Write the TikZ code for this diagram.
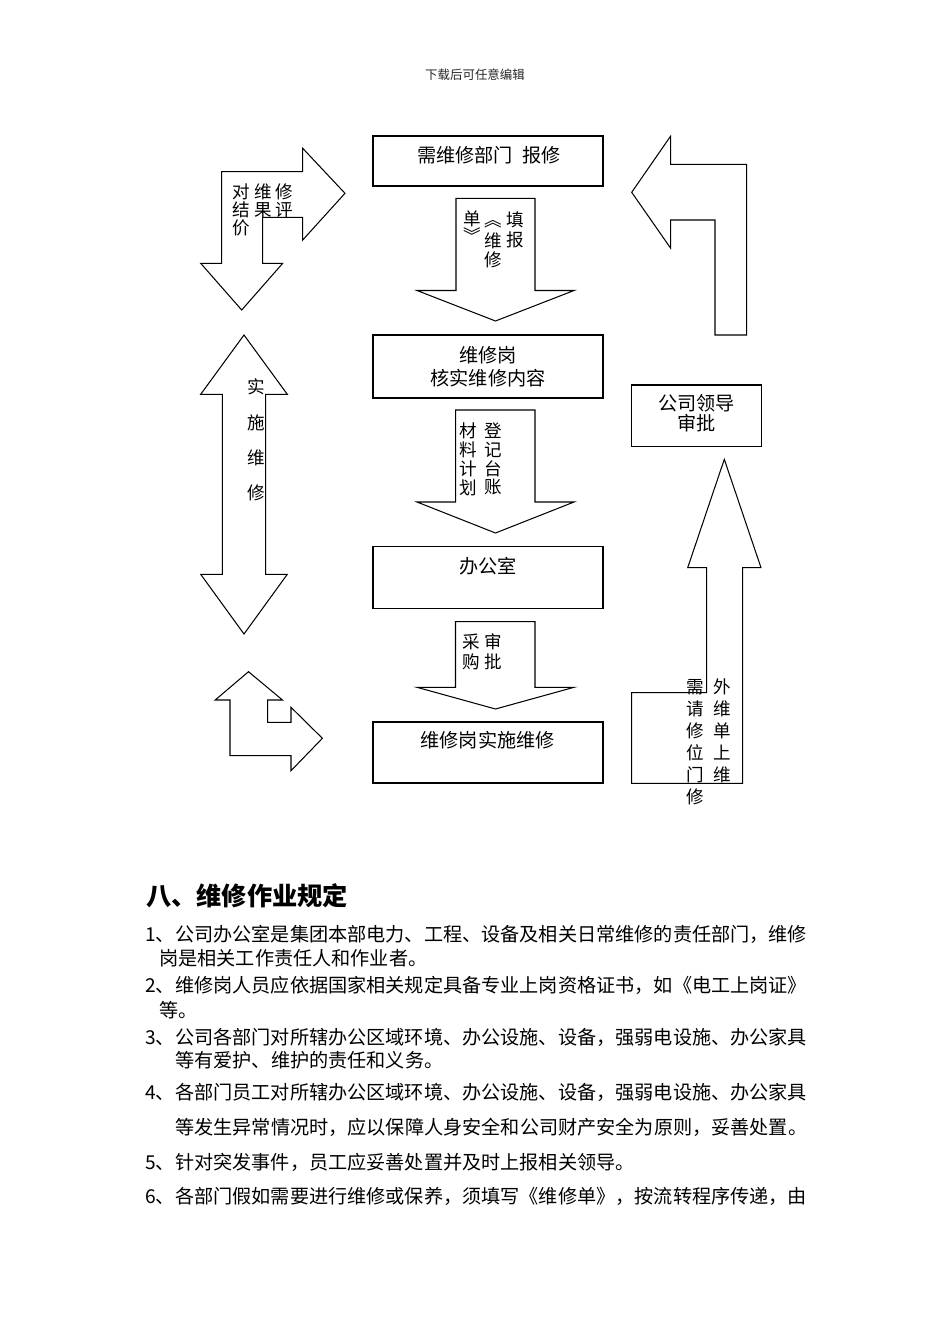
\documentclass[tikz,border=0pt]{standalone}
\usepackage{fontspec}
\setmainfont{Noto Sans CJK SC}
\usetikzlibrary{fit}
\XeTeXlinebreaklocale "zh"
\XeTeXlinebreakskip=0pt plus 2pt minus 0.4pt
\begin{document}
\begin{tikzpicture}[x=0.62661pt,y=-0.62661pt,
  outline/.style={draw=black,line width=0.65pt,line join=miter,fill=white},
  boxnode/.style={draw=black,line width=0.65pt,inner sep=0pt,fill=white},
  boxtxt/.style={inner sep=0pt,align=center,font=\fontsize{12pt}{#1}\selectfont},
  boxtxt/.default=14.6pt,
  arrtxt/.style={inner sep=0pt,align=center,font=\fontsize{11pt}{#1}\selectfont},
  arrtxt/.default=13pt,
  bodytxt/.style={inner sep=0pt,anchor=west,font=\fontsize{12pt}{14pt}\selectfont},
  headtxt/.style={inner sep=0pt,anchor=west,font=\fontsize{15.8pt}{18pt}\selectfont\bfseries},
  toptxt/.style={inner sep=0pt,font=\fontsize{7.8pt}{9pt}\selectfont,text=black!85}]

\fill[white] (0,0) rectangle (950,1344);
\useasboundingbox (0,0) rectangle (950,1344);

% header
\node[toptxt] (hdr) at (475,75) {下载后可任意编辑};

% ---------- boxes ----------
\node[boxnode,fit={(373,136) (603,186)}] (b1) {};
\node[boxnode,fit={(373,335) (603,398)}] (b2) {};
\node[boxnode,fit={(373,546.5) (603,608.7)}] (b3) {};
\node[boxnode,fit={(373,722) (603,783)}] (b4) {};
\node[boxnode,fit={(631.7,385) (761.7,446.7)}] (b5) {};

\node[boxtxt] (t1) at (489,155) {需维修部门\hspace{0.5em}报修};
\node[boxtxt=14.6pt] (t2) at (488,366.7) {维修岗\\核实维修内容};
\node[boxtxt] (t3) at (488,566) {办公室};
\node[boxtxt] (t4) at (487.6,740) {维修岗实施维修};
\node[boxtxt=12.53pt] (t5) at (696.7,413.3) {公司领导\\审批};

% ---------- block arrows ----------
% down arrow 1
\draw[outline] (456,198.3) -- (535,198.3) -- (535,290.5) -- (574,290.5)
  -- (495.5,321) -- (417,290.5) -- (456,290.5) -- cycle;
% down arrow 2
\draw[outline] (455.7,410) -- (535,410) -- (535,502) -- (574,502)
  -- (495.5,533) -- (417,502) -- (455.7,502) -- cycle;
% down arrow 3
\draw[outline] (455.5,621.7) -- (535,621.7) -- (535,687.3) -- (574,687.3)
  -- (495.5,709) -- (417,687.3) -- (455.5,687.3) -- cycle;
% top-left bent arrow (right + down)
\draw[outline] (221.7,263.3) -- (200.7,263.3) -- (241.7,310) -- (282.7,263.3)
  -- (262.7,263.3) -- (262.7,217.3) -- (302.7,217.3) -- (302.7,240)
  -- (345,193.3) -- (302.7,148.3) -- (302.7,171.7) -- (221.7,171.7) -- cycle;
% top-right bent arrow (up + left)
\draw[outline] (746.7,335) -- (715,335) -- (715,220) -- (670.7,220)
  -- (670.7,248.3) -- (631.7,192.3) -- (670.7,136) -- (670.7,164.3)
  -- (746.7,164.3) -- cycle;
% left double arrow
\draw[outline] (244,335) -- (287.3,394.3) -- (265.7,394.3) -- (265.7,574.3)
  -- (287.3,574.3) -- (244,634) -- (200.7,574.3) -- (222.3,574.3)
  -- (222.3,394.3) -- (200.7,394.3) -- cycle;
% bottom-left bent arrow (up + right)
\draw[outline] (230,755.7) -- (230,700) -- (215.2,700) -- (248.5,671.7)
  -- (282.5,700) -- (267.7,700) -- (267.7,722.3) -- (291,722.3)
  -- (291,707.3) -- (322.4,738.3) -- (291,770.7) -- (291,755.7) -- cycle;
% bottom-right bent arrow (up)
\draw[outline] (631.7,783.3) -- (742.7,783.3) -- (742.7,567.7) -- (761,567.7)
  -- (724.3,459.3) -- (687.7,567.7) -- (706.7,567.7) -- (706.7,692.7)
  -- (631.7,692.7) -- cycle;

% ---------- arrow labels ----------
\node[arrtxt=12.97pt] (a1c1) at (515,229.7) {填\\报};
\node[arrtxt] (a1q1) at (493,224) {︽};
\node[arrtxt=12.22pt] (a1c2) at (493,250.2) {维\\修};
\node[arrtxt] (a1c3) at (472.5,219.3) {单};
\node[arrtxt] (a1q2) at (472.5,235) {︾};

\node[arrtxt=11.84pt] (a2c1) at (493.3,459) {登\\记\\台\\账};
\node[arrtxt=11.84pt] (a2c2) at (468.3,459) {材\\料\\计\\划};

\node[arrtxt=12.53pt] (a3c1) at (493.4,651.7) {审\\批};
\node[arrtxt=12.53pt] (a3c2) at (471,651.7) {采\\购};

\node[arrtxt=11.47pt,align=left,anchor=west] (tlt) at (232,210)
  {对\hspace{2.6pt}维\hspace{2.6pt}修\\结\hspace{2.6pt}果\hspace{2.6pt}评\\价};

\node[arrtxt=22.12pt] (dbt) at (256.7,440) {实\\施\\维\\修};

\node[arrtxt=13.72pt] (brc1) at (722.5,731.1) {外\\维\\单\\上\\维};
\node[arrtxt=13.72pt] (brc2) at (695,742.1) {需\\请\\修\\位\\门\\修};

% ---------- text below ----------
\node[headtxt] (head) at (146,896) {八、维修作业规定};

\node[bodytxt] (l1) at (145,934) {\makebox[413.56pt][s]{1、公司办公室是集团本部电力、工程、设备及相关日常维修的责任部门，维修}};
\node[bodytxt] (l2) at (159,958) {岗是相关工作责任人和作业者。};
\node[bodytxt] (l3) at (145,985) {\makebox[413.56pt][s]{2、维修岗人员应依据国家相关规定具备专业上岗资格证书，如《电工上岗证》}};
\node[bodytxt] (l4) at (159,1010) {等。};
\node[bodytxt] (l5) at (145,1037) {\makebox[413.56pt][s]{3、公司各部门对所辖办公区域环境、办公设施、设备，强弱电设施、办公家具}};
\node[bodytxt] (l6) at (175,1060) {等有爱护、维护的责任和义务。};
\node[bodytxt] (l7) at (145,1092) {\makebox[413.56pt][s]{4、各部门员工对所辖办公区域环境、办公设施、设备，强弱电设施、办公家具}};
\node[bodytxt] (l8) at (175,1127) {\makebox[396.02pt][s]{等发生异常情况时，应以保障人身安全和公司财产安全为原则，妥善处置。}};
\node[bodytxt] (l9) at (145,1162) {5、针对突发事件，员工应妥善处置并及时上报相关领导。};
\node[bodytxt] (l10) at (145,1196) {\makebox[413.56pt][s]{6、各部门假如需要进行维修或保养，须填写《维修单》，按流转程序传递，由}};
\end{tikzpicture}
\end{document}
